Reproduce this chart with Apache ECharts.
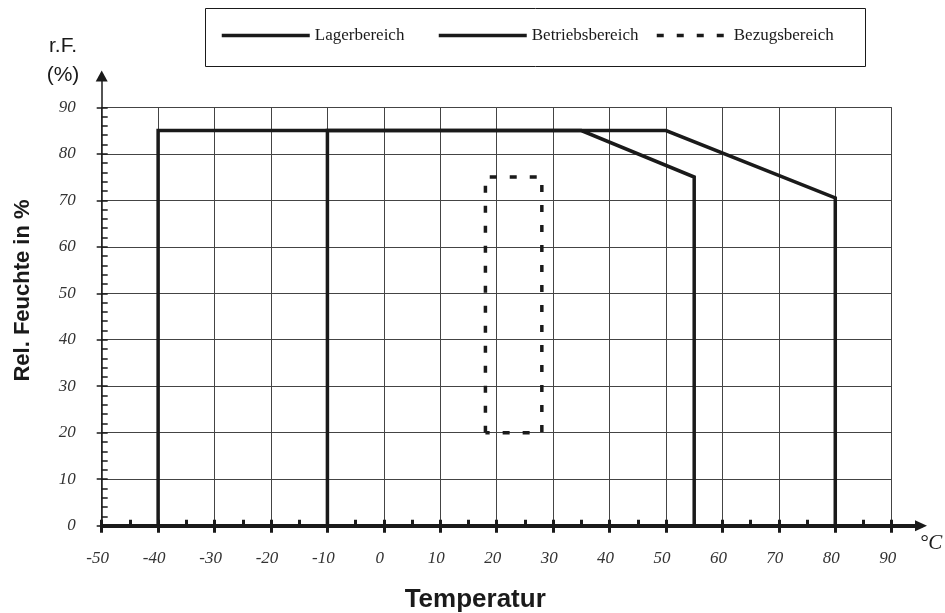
<!DOCTYPE html>
<html><head><meta charset="utf-8">
<script src="https://cdn.jsdelivr.net/npm/echarts@6/dist/echarts.min.js"></script>
<style>html,body{margin:0;padding:0;background:#fff}#c{width:945px;height:613px}</style>
</head><body><div id="c"></div>
<script>
// ---- data ----
const seriesNames = ['Lagerbereich', 'Betriebsbereich', 'Bezugsbereich'];
const lagerX = [-40, -40, 35, 55, 55];
const lagerY = [0, 85, 85, 75, 0];
const betriebX = [-10, -10, 50, 80, 80];
const betriebY = [0, 85, 85, 70.5, 0];
const bezugX = [18, 18, 28, 28, 18];
const bezugY = [20, 75, 75, 20, 20];
const xRange = [-50, 90];
const yRange = [0, 90];
const tickStep = 10;

const zip = (xs, ys) => xs.map((x, i) => [x, ys[i]]);
const ink = '#1a1a1a';
const serif = 'Liberation Serif';
const sans = 'Liberation Sans';
const L = 101.7, R = 891.7, T = 107.3, B = 525.7;

const chart = echarts.init(document.getElementById('c'), null, {renderer: 'canvas'});
const lineStyleBase = {color: ink, width: 3.5, join: 'miter', cap: 'butt'};
const legendBase = {top: 27, itemHeight: 14, itemGap: 0, padding: 0,
  itemStyle: {opacity: 0}, lineStyle: {width: 3.5},
  textStyle: {fontFamily: serif, fontSize: 17, color: ink}};

const option = {
  animation: false,
  backgroundColor: '#fff',
  grid: [
    {left: L, right: 945 - R, top: T, bottom: 613 - B, containLabel: false, outerBoundsMode: 'none'},
    {left: L, right: 945 - 921, top: 76, bottom: 613 - B, containLabel: false, outerBoundsMode: 'none'}
  ],
  legend: [
    Object.assign({data: [seriesNames[0]], left: 220, itemWidth: 88}, legendBase),
    Object.assign({data: [seriesNames[1]], left: 437, itemWidth: 88}, legendBase),
    Object.assign({data: [seriesNames[2]], left: 655, itemWidth: 72}, legendBase)
  ],
  xAxis: [
    {gridIndex: 0, type: 'value', min: xRange[0], max: xRange[1], interval: tickStep, position: 'bottom',
      axisLine: {show: false, onZero: false},
      axisTick: {show: true, inside: true, length: 6, lineStyle: {color: ink, width: 3}},
      minorTick: {show: true, splitNumber: 2, length: 6, lineStyle: {color: ink, width: 3}},
      splitLine: {show: true, lineStyle: {color: '#444', width: 1}},
      axisLabel: {margin: 24, fontFamily: serif, fontStyle: 'italic', fontSize: 17, color: '#333', padding: [0, 8, 0, 0]},
      name: 'Temperatur', nameLocation: 'middle', nameGap: 61,
      nameTextStyle: {fontFamily: sans, fontWeight: 'bold', fontSize: 26, color: ink, padding: [0, 43, 0, 0]}
    },
    {gridIndex: 0, type: 'value', min: xRange[0], max: xRange[1], interval: tickStep, position: 'bottom',
      axisLine: {show: false, onZero: false},
      axisTick: {show: true, inside: false, length: 7, lineStyle: {color: ink, width: 3}},
      axisLabel: {show: false}, splitLine: {show: false}
    },
    {gridIndex: 1, type: 'value', min: 0, max: 1, position: 'bottom',
      axisLine: {show: true, onZero: false, symbol: ['none', 'triangle'], symbolSize: [11, 12], lineStyle: {color: ink, width: 4}},
      axisTick: {show: false}, axisLabel: {show: false}, splitLine: {show: false}
    }
  ],
  yAxis: [
    {gridIndex: 0, type: 'value', min: yRange[0], max: yRange[1], interval: tickStep, position: 'left',
      axisLine: {show: false, onZero: false},
      axisTick: {show: true, inside: true, length: 6, lineStyle: {color: ink, width: 1.5}},
      minorTick: {show: true, splitNumber: 5, length: 6, lineStyle: {color: ink, width: 1.5}},
      splitLine: {show: true, lineStyle: {color: '#444', width: 1}},
      axisLabel: {margin: 26, fontFamily: serif, fontStyle: 'italic', fontSize: 17, color: '#333'},
      name: 'Rel. Feuchte in %', nameLocation: 'middle', nameRotate: 90, nameGap: 68,
      nameTextStyle: {fontFamily: sans, fontWeight: 'bold', fontSize: 22, color: ink, padding: [0, 0, 0, 52]}
    },
    {gridIndex: 0, type: 'value', min: yRange[0], max: yRange[1], interval: tickStep, position: 'left',
      axisLine: {show: false, onZero: false},
      axisTick: {show: true, inside: false, length: 5, lineStyle: {color: ink, width: 1.5}},
      axisLabel: {show: false}, splitLine: {show: false}
    },
    {gridIndex: 1, type: 'value', min: 0, max: 1, position: 'left',
      axisLine: {show: true, onZero: false, symbol: ['none', 'triangle'], symbolSize: [12, 11], lineStyle: {color: ink, width: 1.5}},
      axisTick: {show: false}, axisLabel: {show: false}, splitLine: {show: false}
    }
  ],
  graphic: [
    {type: 'rect', silent: true, z: 0, shape: {x: 205.5, y: 8.5, width: 660, height: 58},
      style: {fill: 'none', stroke: ink, lineWidth: 1}},
    {type: 'text', x: 63, y: 46, style: {text: 'r.F.', font: '21px "Liberation Sans"', fill: ink, align: 'center', verticalAlign: 'middle'}},
    {type: 'text', x: 63, y: 75, style: {text: '(%)', font: '21px "Liberation Sans"', fill: ink, align: 'center', verticalAlign: 'middle'}},
    {type: 'text', x: 931, y: 543, style: {text: '°C', font: 'italic 21px "Liberation Serif"', fill: ink, align: 'center', verticalAlign: 'middle'}}
  ],
  series: [
    {name: seriesNames[0], type: 'line', xAxisIndex: 0, yAxisIndex: 0, data: zip(lagerX, lagerY),
      symbol: 'none', lineStyle: Object.assign({}, lineStyleBase), itemStyle: {color: ink}, clip: false, z: 3},
    {name: seriesNames[1], type: 'line', xAxisIndex: 0, yAxisIndex: 0, data: zip(betriebX, betriebY),
      symbol: 'none', lineStyle: Object.assign({}, lineStyleBase), itemStyle: {color: ink}, clip: false, z: 3},
    {name: seriesNames[2], type: 'line', xAxisIndex: 0, yAxisIndex: 0, data: zip(bezugX, bezugY),
      symbol: 'none', lineStyle: Object.assign({}, lineStyleBase, {width: 3.5, type: [7, 13]}), itemStyle: {color: ink}, clip: false, z: 3}
  ]
};
chart.setOption(option);
</script>
</body></html>
